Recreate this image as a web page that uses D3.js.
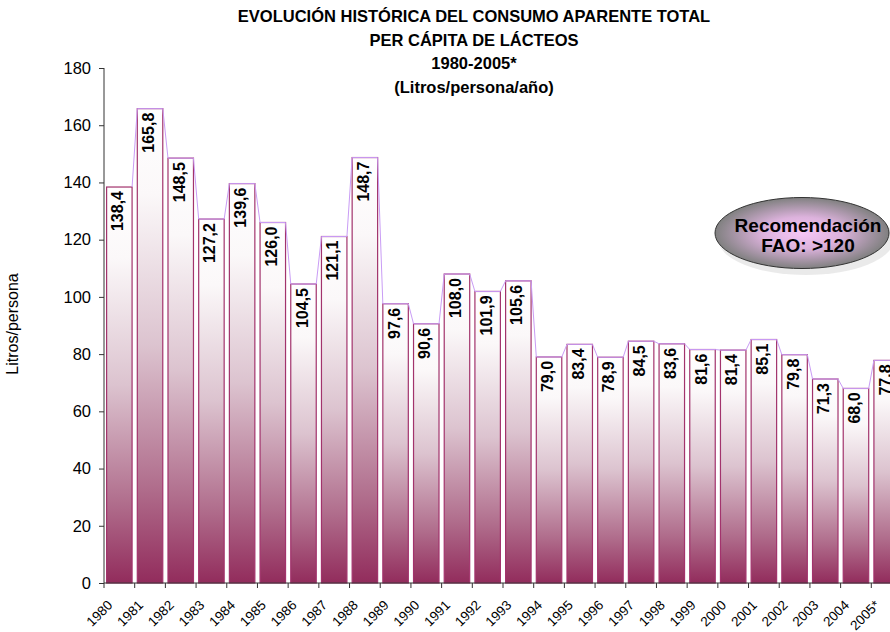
<!DOCTYPE html>
<html><head><meta charset="utf-8">
<script src="https://cdn.jsdelivr.net/npm/d3@7"></script>
<style>body{margin:0;background:#fff}svg{display:block;font-family:"Liberation Sans",Arial,sans-serif}</style>
</head><body><svg id="c" width="890" height="632"></svg>
<script>
const years = ["1980","1981","1982","1983","1984","1985","1986","1987","1988","1989","1990","1991","1992","1993","1994","1995","1996","1997","1998","1999","2000","2001","2002","2003","2004","2005*"];
const values = [138.4,165.8,148.5,127.2,139.6,126.0,104.5,121.1,148.7,97.6,90.6,108.0,101.9,105.6,79.0,83.4,78.9,84.5,83.6,81.6,81.4,85.1,79.8,71.3,68.0,77.8];
const yTicks = [0,20,40,60,80,100,120,140,160,180];
const titleLines = ["EVOLUCIÓN HISTÓRICA DEL CONSUMO APARENTE TOTAL","PER CÁPITA DE LÁCTEOS","1980-2005*","(Litros/persona/año)"];
const noteLines = ["Recomendación","FAO: >120"];

const svg = d3.select("#c");
const x0 = 104, x1 = 902, yTop = 68, yBot = 583;
const x = d3.scaleBand().domain(years).range([x0, x1]).paddingInner(0.17).paddingOuter(0.085);
const y = d3.scaleLinear().domain([0,180]).range([yBot, yTop]);
const step = x.step();

const defs = svg.append("defs");
const g = defs.append("linearGradient").attr("id","bg").attr("x1",0).attr("y1",0).attr("x2",0).attr("y2",1);
[[0,"#ffffff"],[0.18,"#fbf8f9"],[0.5,"#dcc3cf"],[0.8,"#b06d8c"],[1,"#922c5c"]].forEach(s=>g.append("stop").attr("offset",s[0]).attr("stop-color",s[1]));
const rg = defs.append("radialGradient").attr("id","eg").attr("cx","50%").attr("cy","50%").attr("r","50%");
[[0,"#f6c6f6"],[0.45,"#dcb2dc"],[1,"#808080"]].forEach(s=>rg.append("stop").attr("offset",s[0]).attr("stop-color",s[1]));

// title
svg.append("g").selectAll("text").data(titleLines).join("text")
  .attr("x",474).attr("y",(d,i)=>22+i*23.6).attr("text-anchor","middle")
  .attr("font-weight","bold").attr("font-size",16.5).attr("fill","#000").text(d=>d);

// bars
svg.append("g").selectAll("rect").data(values).join("rect")
  .attr("x",(d,i)=>x(years[i])).attr("y",d=>y(d))
  .attr("width",x.bandwidth()).attr("height",d=>yBot-y(d))
  .attr("fill","url(#bg)").attr("stroke","#a2336c").attr("stroke-width",1.2);

// connecting line
const pts = [];
values.forEach((v,i)=>{ pts.push([x(years[i])+x.bandwidth(), y(v)]); if(i<values.length-1) pts.push([x(years[i+1]), y(values[i+1])]); });
svg.append("path").attr("d",d3.line()(pts)).attr("fill","none").attr("stroke","#c99cf5").attr("stroke-width",1);

// value labels
svg.append("g").selectAll("text").data(values).join("text")
  .attr("transform",(d,i)=>`translate(${x(years[i])+x.bandwidth()/2+4},${y(d)+4}) rotate(-90)`)
  .attr("text-anchor","end").attr("font-weight","bold").attr("font-size",16).attr("fill","#000")
  .text(d=>d3.format(".1f")(d).replace(".",","));

// y axis
const ya = svg.append("g").attr("transform",`translate(${x0},0)`)
  .call(d3.axisLeft(y).tickValues(yTicks).tickSize(5).tickPadding(8));
ya.select(".domain").attr("stroke","#333").attr("d",`M0,${yTop}V${yBot}`);
ya.selectAll(".tick line").attr("stroke","#333");
ya.selectAll("text").attr("font-size",16.5).attr("font-family","Liberation Sans, Arial").attr("fill","#000");

// x axis
const xa = svg.append("g").attr("transform",`translate(0,${yBot})`);
xa.append("line").attr("x1",x0).attr("x2",890).attr("stroke","#333");
xa.selectAll(".t").data(d3.range(years.length+1)).join("line")
  .attr("x1",i=>x0+i*step).attr("x2",i=>x0+i*step).attr("y1",0).attr("y2",5).attr("stroke","#333");
xa.selectAll("text").data(years).join("text")
  .attr("transform",d=>`translate(${x(d)+x.bandwidth()/2-6},${23}) rotate(-45)`)
  .attr("text-anchor","end").attr("font-size",13.5).attr("fill","#000").text(d=>d);

// y title
svg.append("text").attr("transform","translate(18,324) rotate(-90)").attr("text-anchor","middle")
  .attr("font-size",16).attr("fill","#000").text("Litros/persona");

// ellipse note
svg.append("ellipse").attr("cx",804).attr("cy",236).attr("rx",88).attr("ry",36)
  .attr("fill","#bbb").attr("opacity",0.3).attr("transform","translate(2,3)");
svg.append("ellipse").attr("cx",802).attr("cy",233).attr("rx",87).attr("ry",35.5)
  .attr("fill","url(#eg)").attr("stroke","#333").attr("stroke-width",1);
svg.append("g").selectAll("text").data(noteLines).join("text")
  .attr("x",808).attr("y",(d,i)=>232+i*20).attr("text-anchor","middle")
  .attr("font-weight","bold").attr("font-size",19).attr("fill","#000").text(d=>d);
</script></body></html>
